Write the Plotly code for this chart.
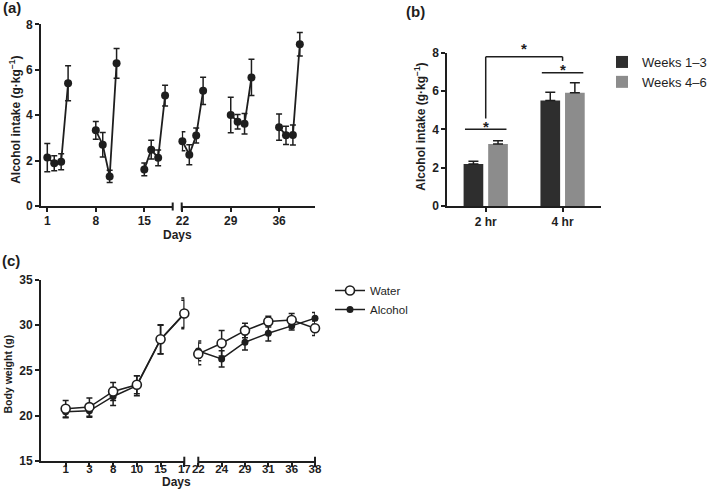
import plotly.graph_objects as go

# ---------------- data ----------------
# Panel (a): alcohol intake per drinking day (mean, SEM)
a_days = [[1, 2, 3, 4], [8, 9, 10, 11], [15, 16, 17, 18],
          [22, 23, 24, 25], [29, 30, 31, 32], [36, 37, 38, 39]]
a_mean = [[2.13, 1.88, 1.95, 5.40], [3.33, 2.70, 1.30, 6.28], [1.61, 2.48, 2.12, 4.86],
          [2.85, 2.26, 3.10, 5.07], [4.01, 3.71, 3.62, 5.66], [3.47, 3.11, 3.13, 7.12]]
a_sem = [[0.62, 0.33, 0.35, 0.77], [0.39, 0.54, 0.27, 0.65], [0.28, 0.41, 0.35, 0.46],
         [0.42, 0.44, 0.33, 0.60], [0.78, 0.32, 0.45, 0.80], [0.58, 0.40, 0.44, 0.52]]
a_ticks_1 = [1, 8, 15]
a_ticks_2 = [22, 29, 36]

# Panel (b): mean intake by session length
b_cats = ["2 hr", "4 hr"]
b_w13 = [2.19, 5.51]
b_w13_sem = [0.14, 0.42]
b_w46 = [3.23, 5.91]
b_w46_sem = [0.18, 0.52]

# Panel (c): body weight
c_days_1 = ["1", "3", "8", "10", "15", "17"]
c_days_2 = ["22", "24", "29", "31", "36", "38"]
c_water_1 = [20.75, 20.93, 22.66, 23.40, 28.44, 31.30]
c_water_1_sem = [0.90, 1.00, 1.00, 1.00, 1.60, 1.70]
c_alc_1 = [20.41, 20.52, 22.11, 23.30, 28.40, 31.25]
c_alc_1_sem = [0.65, 0.70, 1.00, 1.10, 1.60, 1.50]
c_water_2 = [26.82, 28.00, 29.40, 30.40, 30.58, 29.66]
c_water_2_sem = [1.20, 1.40, 0.80, 0.60, 0.70, 0.80]
c_alc_2 = [27.15, 26.27, 28.11, 29.11, 29.92, 30.76]
c_alc_2_sem = [1.10, 0.90, 0.85, 0.85, 0.45, 0.65]

# ---------------- style ----------------
W, H = 709, 496
INK = "#1e1e1e"
FONT = "Liberation Sans, Arial, Helvetica, sans-serif"
DARK = "#2e2e2e"
GREY = "#8c8c8c"


def fx(p):
    return p / W


def fy(p):
    return 1 - p / H


fig = go.Figure()

# ---- panel (a) ----
for i, (d, m, s) in enumerate(zip(a_days, a_mean, a_sem)):
    fig.add_trace(go.Scatter(
        x=d, y=m, mode="lines+markers",
        error_y=dict(type="data", array=s, color=INK, thickness=1.5, width=3),
        line=dict(color=INK, width=1.8),
        marker=dict(size=8, color=INK),
        xaxis="x" if i < 3 else "x2", yaxis="y",
        showlegend=False, cliponaxis=False, hoverinfo="x+y",
    ))

# ---- panel (b) ----
fig.add_trace(go.Bar(
    x=b_cats, y=b_w13, name="Weeks 1\u20133", marker=dict(color=DARK, line=dict(width=0)),
    error_y=dict(type="data", symmetric=False, array=b_w13_sem, arrayminus=[0, 0],
                 color=INK, thickness=1.5, width=5),
    xaxis="x3", yaxis="y3", legend="legend",
))
fig.add_trace(go.Bar(
    x=b_cats, y=b_w46, name="Weeks 4\u20136", marker=dict(color=GREY, line=dict(width=0)),
    error_y=dict(type="data", symmetric=False, array=b_w46_sem, arrayminus=[0, 0],
                 color=INK, thickness=1.5, width=5),
    xaxis="x3", yaxis="y3", legend="legend",
))

# ---- panel (c) ----
eb = dict(type="data", color=INK, thickness=1.5, width=3)
for xs, ys, ss, xa, show in [(c_days_1, c_alc_1, c_alc_1_sem, "x4", True),
                             (c_days_2, c_alc_2, c_alc_2_sem, "x5", False)]:
    fig.add_trace(go.Scatter(
        x=xs, y=ys, mode="lines+markers", name="Alcohol",
        error_y=dict(eb, array=ss),
        line=dict(color=INK, width=1.5),
        marker=dict(size=7, color=INK, symbol="circle"),
        xaxis=xa, yaxis="y4", showlegend=show, legend="legend2", legendrank=2,
        cliponaxis=False,
    ))
for xs, ys, ss, xa, show in [(c_days_1, c_water_1, c_water_1_sem, "x4", True),
                             (c_days_2, c_water_2, c_water_2_sem, "x5", False)]:
    fig.add_trace(go.Scatter(
        x=xs, y=ys, mode="lines+markers", name="Water",
        error_y=dict(eb, array=ss),
        line=dict(color=INK, width=1.5),
        marker=dict(size=9, color="white", symbol="circle", line=dict(color=INK, width=1.6)),
        xaxis=xa, yaxis="y4", showlegend=show, legend="legend2", legendrank=1,
        cliponaxis=False,
    ))

# ---------------- axes ----------------
tickfont = dict(family=FONT, size=12, color=INK, weight="bold")
base = dict(showline=True, linewidth=2, linecolor=INK, ticks="outside", ticklen=4,
            tickwidth=2, tickcolor=INK, showgrid=False, zeroline=False,
            tickfont=tickfont, fixedrange=True, automargin=False)
cx = dict(base, tickfont=dict(tickfont, size=11.5), ticklabelstandoff=-8)

fig.update_layout(
    xaxis=dict(base, domain=[fx(41), fx(172.7)], range=[0.09, 19.1],
               tickvals=a_ticks_1, anchor="y", ticklabelstandoff=-1),
    xaxis2=dict(base, domain=[fx(181.7), fx(315)], range=[21.9, 41.2],
                tickvals=a_ticks_2, anchor="y", ticklabelstandoff=-1),
    yaxis=dict(base, domain=[fy(206), fy(24.3)], range=[0, 8], dtick=2, anchor="x"),
    xaxis3=dict(base, domain=[fx(447.3), fx(601)], range=[-0.5, 1.5], anchor="y3",
                type="category"),
    yaxis3=dict(base, domain=[fy(206), fy(52.7)], range=[0, 8], dtick=2, anchor="x3"),
    xaxis4=dict(cx, domain=[fx(41), fx(184.3)], range=[-1.04, 5], anchor="y4",
                type="category", categoryarray=c_days_1, categoryorder="array"),
    xaxis5=dict(cx, domain=[fx(198.3), fx(315)], range=[0, 5], anchor="y4",
                type="category", categoryarray=c_days_2, categoryorder="array"),
    yaxis4=dict(base, domain=[fy(460.7), fy(280)], range=[15, 35], dtick=5, anchor="x4"),
)

# broken-axis end caps
caps = [("x domain", 1, 206.5), ("x2 domain", 0, 206.5),
        ("x4 domain", 1, 460.7), ("x5 domain", 0, 460.7), ("x5 domain", 1, 460.7)]
shapes = []
for xr, xv, yp in caps:
    shapes.append(dict(type="line", xref=xr, yref="paper", x0=xv, x1=xv,
                       y0=fy(yp + 4), y1=fy(yp - 4), line=dict(color=INK, width=2)))

# significance marks in (b)
sig = dict(type="line", xref="x3", yref="y3", line=dict(color=INK, width=1.5))
shapes += [
    dict(sig, x0=-0.27, x1=0.27, y0=4.0, y1=4.0),
    dict(sig, x0=0.73, x1=1.27, y0=6.96, y1=6.96),
    dict(sig, x0=0, x1=0, y0=4.57, y1=7.79),
    dict(sig, x0=0, x1=1, y0=7.79, y1=7.79),
    dict(sig, x0=1, x1=1, y0=7.79, y1=7.57),
]

star = dict(text="*", showarrow=False, xref="x3", yref="y3", xanchor="center",
            yanchor="middle", font=dict(family=FONT, size=15, color=INK, weight="bold"))
annotations = [
    dict(star, x=0, y=4.0, yshift=3),
    dict(star, x=1, y=6.96, yshift=3),
    dict(star, x=0.5, y=7.79, yshift=8),
]

lab = dict(showarrow=False, xref="paper", yref="paper", xanchor="center", yanchor="middle",
           font=dict(family=FONT, size=12, color=INK, weight="bold"))
panel = dict(showarrow=False, xref="paper", yref="paper", xanchor="left", yanchor="middle",
             font=dict(family=FONT, size=15, color=INK, weight="bold"))
ytitle = "Alcohol intake (g\u00b7kg<sup>\u22121</sup>)"
annotations += [
    dict(panel, text="(a)", x=fx(1), y=fy(7)),
    dict(panel, text="(b)", x=fx(404), y=fy(12)),
    dict(panel, text="(c)", x=fx(0), y=fy(260)),
    dict(lab, text="Days", x=fx(177), y=fy(235)),
    dict(lab, text="Days", x=fx(176), y=fy(481.5)),
    dict(lab, text=ytitle, x=fx(14.3), y=fy(119.5), textangle=-90),
    dict(lab, text=ytitle, x=fx(420), y=fy(126.7), textangle=-90),
    dict(lab, text="Body weight (g)", x=fx(7.5), y=fy(374), textangle=-90,
         font=dict(family=FONT, size=10.5, color=INK, weight="bold")),
]

fig.update_layout(
    width=W, height=H, margin=dict(l=0, r=0, t=0, b=0, autoexpand=False),
    paper_bgcolor="white", plot_bgcolor="white",
    font=dict(family=FONT, color=INK),
    barmode="group", bargap=0.36, bargroupgap=0.2,
    shapes=shapes, annotations=annotations,
    legend=dict(x=fx(602), y=fy(47), xanchor="left", yanchor="top",
                font=dict(family=FONT, size=13, color=INK), bgcolor="rgba(0,0,0,0)",
                tracegroupgap=0),
    legend2=dict(x=fx(330), y=fy(276), xanchor="left", yanchor="top",
                 font=dict(family=FONT, size=11.5, color=INK), bgcolor="rgba(0,0,0,0)",
                 tracegroupgap=0),
    showlegend=True,
)

fig.write_html("out.html", config={"displayModeBar": False},
               post_script="document.body.style.margin='0';")
